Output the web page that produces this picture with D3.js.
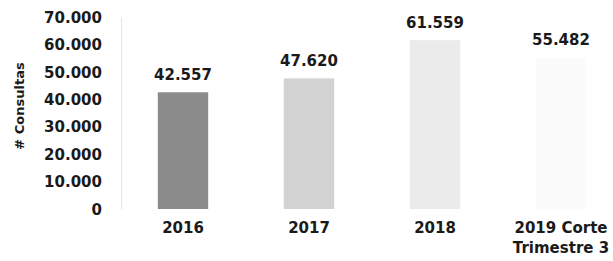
<!DOCTYPE html>
<html>
<head>
<meta charset="utf-8" />
<title>Consultas</title>
<script src="https://d3js.org/d3.v7.min.js"></script>
<style>
    body { margin: 0; background: white; }
    text { font-family: "DejaVu Sans", sans-serif; font-weight: bold; fill: #1a1a1a; }
</style>
</head>
<body>
<svg id="chart" width="613" height="261"></svg>
<script>
    // data
    var years = ["2016", "2017", "2018", "2019 Corte|Trimestre 3"];
    var consultas = [42557, 47620, 61559, 55482];
    var valueLabels = ["42.557", "47.620", "61.559", "55.482"];
    var yTicks = [0, 10000, 20000, 30000, 40000, 50000, 60000, 70000];
    var barColors = ["#8b8b8b", "#d3d3d3", "#ebebeb", "#fbfbfb"];

    var svg = d3.select("#chart");

    var x = d3.scaleBand().domain(years).range([120, 624]).paddingInner(0.6).paddingOuter(0.3);
    var y = d3.scaleLinear().domain([0, 70000]).range([209, 17]);

    // y axis
    var yAxis = d3.axisLeft(y).tickValues(yTicks).tickSize(0).tickPadding(19)
        .tickFormat(function(d) { return d3.format(",")(d).replace(/,/g, "."); });
    var ya = svg.append("g").attr("transform", "translate(121,0)").call(yAxis);
    ya.select(".domain").attr("stroke", "#e4e4e4");
    ya.selectAll("text").style("font-size", "15px").attr("dy", "0.35em");

    svg.append("text")
        .attr("transform", "translate(24,106) rotate(-90)")
        .attr("text-anchor", "middle")
        .style("font-size", "13px")
        .text("# Consultas");

    // bars
    svg.selectAll("rect.bar").data(years).enter().append("rect")
        .attr("class", "bar")
        .attr("x", function(d) { return x(d); })
        .attr("width", x.bandwidth())
        .attr("y", function(d, i) { return y(consultas[i]); })
        .attr("height", function(d, i) { return y(0) - y(consultas[i]); })
        .attr("fill", function(d, i) { return barColors[i]; });

    // value labels
    svg.selectAll("text.val").data(years).enter().append("text")
        .attr("class", "val")
        .attr("x", function(d) { return x(d) + x.bandwidth() / 2; })
        .attr("y", function(d, i) { return y(consultas[i]) - 12; })
        .attr("text-anchor", "middle")
        .style("font-size", "15px")
        .text(function(d, i) { return valueLabels[i]; });

    // category labels
    var cat = svg.selectAll("text.cat").data(years).enter().append("text")
        .attr("class", "cat")
        .attr("x", function(d) { return x(d) + x.bandwidth() / 2; })
        .attr("y", 233)
        .attr("text-anchor", "middle")
        .style("font-size", "15px");
    cat.selectAll("tspan").data(function(d) { return d.split("|"); }).enter().append("tspan")
        .attr("x", function() { return d3.select(this.parentNode).attr("x"); })
        .attr("dy", function(d, i) { return i == 0 ? 0 : "1.3em"; })
        .text(function(d) { return d; });
</script>
</body>
</html>
